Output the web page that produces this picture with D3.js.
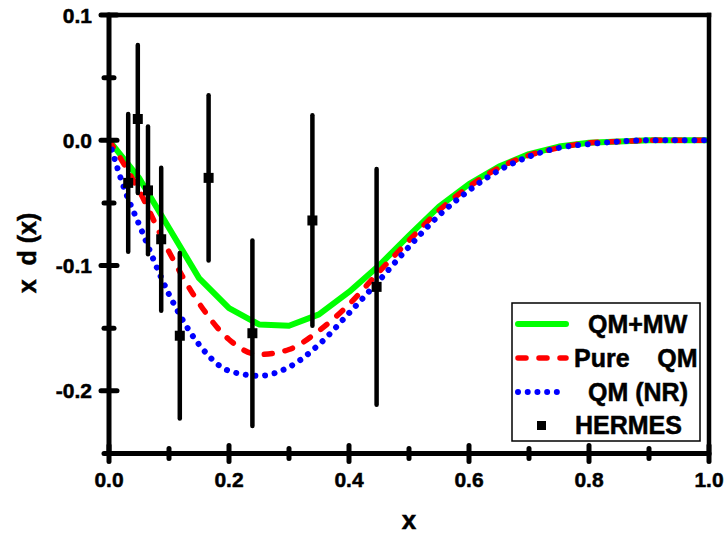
<!DOCTYPE html>
<html>
<head>
<meta charset="utf-8">
<script src="https://cdn.jsdelivr.net/npm/d3@7"></script>
<style>
  html, body { margin: 0; padding: 0; background: #fff; }
  svg { display: block; }
  text { font-family: "Liberation Sans", Arial, sans-serif; font-weight: bold; fill: #000; stroke: #000; stroke-width: 0.5px; }
</style>
</head>
<body>
<svg id="chart" width="728" height="534"></svg>
<script>
// ---- data ----
const xGrid = [0, 0.025, 0.05, 0.1, 0.15, 0.2, 0.25, 0.3, 0.35, 0.4, 0.45, 0.5, 0.55, 0.6, 0.65, 0.7, 0.75, 0.8, 0.85, 0.9, 0.95, 1.0];
const qmMW   = [0, -0.015, -0.030, -0.070, -0.110, -0.134, -0.147, -0.148, -0.139, -0.121, -0.100, -0.076, -0.053, -0.035, -0.021, -0.011, -0.005, -0.002, -0.001, 0, 0, 0];
const pureQM = [0, -0.019, -0.040, -0.089, -0.130, -0.159, -0.171, -0.167, -0.152, -0.131, -0.105, -0.080, -0.056, -0.037, -0.022, -0.012, -0.006, -0.002, -0.001, 0, 0, 0];
const qmNR   = [0, -0.038, -0.067, -0.123, -0.163, -0.184, -0.188, -0.181, -0.163, -0.138, -0.112, -0.085, -0.060, -0.040, -0.024, -0.013, -0.006, -0.003, -0.001, 0, 0, 0];

const hermesX   = [0.032, 0.048, 0.065, 0.087, 0.118, 0.166, 0.239, 0.339, 0.446];
const hermesY   = [-0.034, 0.017, -0.040, -0.079, -0.156, -0.030, -0.154, -0.064, -0.117];
const hermesErr = [0.055, 0.059, 0.051, 0.057, 0.066, 0.066, 0.074, 0.084, 0.094];

const xMajorTicks = [0, 0.2, 0.4, 0.6, 0.8, 1.0];
const xMinorTicks = [0.1, 0.3, 0.5, 0.7, 0.9];
const yMajorTicks = [0.1, 0.0, -0.1, -0.2];
const yMinorTicks = [0.05, -0.05, -0.15, -0.25];

const legendLabels = ["QM+MW", "Pure    QM", "QM (NR)", "HERMES"];
const xTitle = "x";
const yTitle = "x  d (x)";

// ---- layout ----
const svg = d3.select("#chart");
const pLeft = 109, pRight = 709, pTop = 15, pBottom = 453.5;
const x = d3.scaleLinear().domain([0, 1]).range([pLeft, pRight]);
const y = d3.scaleLinear().domain([-0.25, 0.1]).range([pBottom, pTop]);

const series = [
  { vals: qmMW,   color: "#00ff00", width: 6, dash: null, cap: "butt", curve: d3.curveLinear },
  { vals: pureQM, color: "#ff0000", width: 5.5, dash: "8,13", cap: "round", curve: d3.curveMonotoneX },
  { vals: qmNR,   color: "#0000ff", width: 6, dash: "0.01,9.7", cap: "round", curve: d3.curveMonotoneX }
];

const plot = svg.append("g");
series.forEach(s => {
  const line = d3.line().x((d, i) => x(xGrid[i])).y(d => y(d)).curve(s.curve);
  plot.append("path")
    .datum(s.vals)
    .attr("d", line)
    .attr("fill", "none")
    .attr("stroke", s.color)
    .attr("stroke-width", s.width)
    .attr("stroke-linecap", s.cap)
    .attr("stroke-linejoin", "round")
    .attr("stroke-dasharray", s.dash);
});

// error bars
const pts = hermesX.map((v, i) => ({ x: v, y: hermesY[i], e: hermesErr[i] }));
plot.selectAll(".eb").data(pts).enter().append("line")
  .attr("x1", d => x(d.x)).attr("x2", d => x(d.x))
  .attr("y1", d => y(d.y + d.e)).attr("y2", d => y(d.y - d.e))
  .attr("stroke", "#000").attr("stroke-width", 4.5).attr("stroke-linecap", "round");
plot.selectAll(".sq").data(pts).enter().append("rect")
  .attr("x", d => x(d.x) - 5).attr("y", d => y(d.y) - 5)
  .attr("width", 10).attr("height", 10).attr("fill", "#000");

// ---- axes ----
const ax = svg.append("g");
ax.append("line").attr("x1", pLeft).attr("x2", pRight).attr("y1", pTop).attr("y2", pTop).attr("stroke", "#000").attr("stroke-width", 4.5).attr("stroke-linecap", "square");
ax.append("line").attr("x1", pRight).attr("x2", pRight).attr("y1", pTop).attr("y2", pBottom).attr("stroke", "#000").attr("stroke-width", 4.5).attr("stroke-linecap", "square");
ax.append("line").attr("x1", pLeft).attr("x2", pRight).attr("y1", pBottom).attr("y2", pBottom).attr("stroke", "#000").attr("stroke-width", 5).attr("stroke-linecap", "round");
ax.append("line").attr("x1", pLeft).attr("x2", pLeft).attr("y1", pTop).attr("y2", pBottom).attr("stroke", "#000").attr("stroke-width", 5).attr("stroke-linecap", "round");

ax.selectAll(".xmaj").data(xMajorTicks).enter().append("line")
  .attr("x1", d => x(d)).attr("x2", d => x(d))
  .attr("y1", pBottom - 8).attr("y2", pBottom + 8)
  .attr("stroke", "#000").attr("stroke-width", 5).attr("stroke-linecap", "round");
ax.selectAll(".xmin").data(xMinorTicks).enter().append("line")
  .attr("x1", d => x(d)).attr("x2", d => x(d))
  .attr("y1", pBottom - 5).attr("y2", pBottom + 5)
  .attr("stroke", "#000").attr("stroke-width", 5).attr("stroke-linecap", "round");
ax.selectAll(".ymaj").data(yMajorTicks).enter().append("line")
  .attr("y1", d => y(d)).attr("y2", d => y(d))
  .attr("x1", pLeft - 8).attr("x2", pLeft + 8)
  .attr("stroke", "#000").attr("stroke-width", 5).attr("stroke-linecap", "round");
ax.selectAll(".ymin").data(yMinorTicks).enter().append("line")
  .attr("y1", d => y(d)).attr("y2", d => y(d))
  .attr("x1", pLeft - 5).attr("x2", pLeft + 5)
  .attr("stroke", "#000").attr("stroke-width", 5).attr("stroke-linecap", "round");

const fmt = d3.format(".1f");
ax.selectAll(".xl").data(xMajorTicks).enter().append("text")
  .attr("x", d => x(d)).attr("y", 487)
  .attr("text-anchor", "middle").attr("font-size", 21)
  .text(d => fmt(d));
ax.selectAll(".yl").data(yMajorTicks).enter().append("text")
  .attr("x", 92).attr("y", d => y(d) + 7.5)
  .attr("text-anchor", "end").attr("font-size", 21)
  .text(d => fmt(d).replace("−", "-"));

svg.append("text").attr("x", 409).attr("y", 529).attr("text-anchor", "middle")
  .attr("font-size", 26).text(xTitle);
svg.append("text").attr("transform", "translate(36,253) rotate(-90)")
  .attr("text-anchor", "middle").attr("font-size", 25)
  .style("white-space", "pre")
  .text(yTitle);

// ---- legend ----
const lg = svg.append("g");
lg.append("rect").attr("x", 512).attr("y", 303).attr("width", 188).attr("height", 138)
  .attr("fill", "#fff").attr("stroke", "#000").attr("stroke-width", 1.5);
const rowY = [324, 358, 392, 425];
const textX = [588, 574, 588, 575];
series.forEach((s, i) => {
  lg.append("line").attr("x1", 518).attr("x2", 566).attr("y1", rowY[i]).attr("y2", rowY[i])
    .attr("stroke", s.color).attr("stroke-width", s.width)
    .attr("stroke-linecap", "round").attr("stroke-dasharray", s.dash);
});
lg.append("rect").attr("x", 537).attr("y", rowY[3] - 4).attr("width", 9).attr("height", 9).attr("fill", "#000");
legendLabels.forEach((t, i) => {
  lg.append("text").attr("x", textX[i]).attr("y", rowY[i] + 9)
    .attr("font-size", 25).style("white-space", "pre").text(t);
});
</script>
</body>
</html>
